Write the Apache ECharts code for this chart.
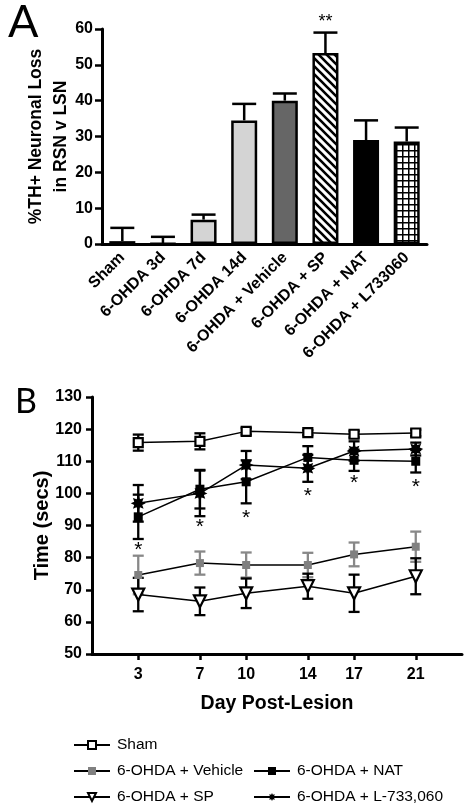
<!DOCTYPE html>
<html><head><meta charset="utf-8">
<script src="https://cdn.jsdelivr.net/npm/echarts@6/dist/echarts.min.js"></script>
<style>html,body{margin:0;padding:0;background:#fff}#c{width:469px;height:808px}</style>
</head><body><div id="c"></div>
<script>
// ---------- Panel A data ----------
const groupsA = ['Sham','6-OHDA 3d','6-OHDA 7d','6-OHDA 14d','6-OHDA + Vehicle','6-OHDA + SP','6-OHDA + NAT','6-OHDA + L733060'];
const lossA = [0.8, 0.1, 6.8, 34.5, 40.0, 53.3, 29.0, 28.6];
const semA  = [3.7, 1.9, 1.4, 4.6, 2.0, 5.7, 5.5, 3.9];
const sigA  = ['', '', '', '', '', '**', '', ''];
const yTicksA = [0, 10, 20, 30, 40, 50, 60];

// ---------- Panel B data ----------
const days = [3, 7, 10, 14, 17, 21];
const sham = [115.8, 116.2, 119.3, 118.9, 118.4, 118.8];
const shamErr = [2.5, 2.5, 1.0, 0.8, 1.0, 1.0];
const vehicle = [74.6, 78.3, 77.7, 77.7, 81.0, 83.4];
const vehicleErr = [6.0, 3.6, 3.9, 3.8, 3.7, 4.7];
const sp = [68.5, 66.4, 68.9, 71.1, 68.9, 74.2];
const spErr = [5.2, 4.3, 4.6, 3.9, 5.8, 5.6];
const nat = [92.7, 101.3, 103.6, 111.2, 110.3, 110.0];
const natErr = [6.9, 6.0, 6.7, 3.5, 3.3, 3.5];
const l733 = [96.9, 100.0, 108.8, 107.8, 113.2, 113.8];
const l733Err = [5.7, 7.1, 4.4, 4.2, 3.0, 2.0];
const sigDays = [3, 7, 10, 14, 17, 21];
const sigY = [83.4, 90.7, 93.6, 100.5, 104.4, 103.3];
const xTicksB = [3, 7, 10, 14, 17, 21];
const namesB = ['Sham', '6-OHDA + Vehicle', '6-OHDA + NAT', '6-OHDA + SP', '6-OHDA + L-733,060'];

// ---------- helpers ----------
const FONT = 'Liberation Sans, Arial, sans-serif';
function stripePattern() {
  const c = document.createElement('canvas'); c.width = 8; c.height = 8;
  const g = c.getContext('2d');
  g.fillStyle = '#fff'; g.fillRect(0, 0, 8, 8);
  g.strokeStyle = '#000'; g.lineWidth = 2.6;
  g.beginPath();
  g.moveTo(-2, -2); g.lineTo(10, 10);
  g.moveTo(-2, 6); g.lineTo(2, 10);
  g.moveTo(6, -2); g.lineTo(10, 2);
  g.stroke();
  return c;
}
function gridPattern() {
  const c = document.createElement('canvas'); c.width = 6; c.height = 6;
  const g = c.getContext('2d');
  g.fillStyle = '#fff'; g.fillRect(0, 0, 6, 6);
  g.fillStyle = '#000'; g.fillRect(0, 0, 6, 1.5); g.fillRect(0, 0, 1.5, 6);
  return c;
}
function starPath() {
  let d = '';
  for (let k = 0; k < 16; k++) {
    const a = k * Math.PI / 8 - Math.PI / 2;
    const r = k % 2 === 0 ? 10 : 5.8;
    d += (k === 0 ? 'M' : 'L') + (r * Math.cos(a)).toFixed(2) + ' ' + (r * Math.sin(a)).toFixed(2) + ' ';
  }
  return 'path://' + d + 'Z';
}
const fillsA = ['#000', '#fff', '#d4d4d4', '#d4d4d4', '#666666',
  {image: stripePattern(), repeat: 'repeat'}, '#000', {image: gridPattern(), repeat: 'repeat'}];

function errB(vals, errs, color) {
  return {
    type: 'custom', xAxisIndex: 1, yAxisIndex: 1, silent: true, z: 1,
    data: days.map((d, i) => [d, vals[i], errs[i]]),
    encode: {x: 0, y: 1},
    renderItem: function (params, api) {
      const x = api.value(0), y = api.value(1), e = api.value(2);
      const top = api.coord([x, y + e]), bot = api.coord([x, y - e]);
      const st = {stroke: color, lineWidth: 2.3};
      const h = 5.5;
      return {type: 'group', children: [
        {type: 'line', shape: {x1: top[0], y1: top[1], x2: bot[0], y2: bot[1]}, style: st},
        {type: 'line', shape: {x1: top[0] - h, y1: top[1], x2: top[0] + h, y2: top[1]}, style: st},
        {type: 'line', shape: {x1: bot[0] - h, y1: bot[1], x2: bot[0] + h, y2: bot[1]}, style: st}
      ]};
    }
  };
}
function lineB(name, vals, sym, size, fill, border, extra) {
  return Object.assign({
    type: 'line', name: name, xAxisIndex: 1, yAxisIndex: 1, z: 3,
    data: days.map((d, i) => [d, vals[i]]),
    symbol: sym, symbolSize: size, showSymbol: true,
    lineStyle: {color: '#000', width: 1.5},
    itemStyle: {color: fill, borderColor: border, borderWidth: border ? 2.2 : 0, opacity: 1},
    emphasis: {disabled: true}, animation: false
  }, extra || {});
}
function legendItem(name, left, top) {
  return {data: [name], orient: 'horizontal', left: left, top: top, padding: 0,
    itemWidth: 36, itemHeight: 10, itemGap: 0, selectedMode: false,
    textStyle: {fontSize: 15.5, fontFamily: FONT, color: '#000', padding: [0, 0, 0, 2]}};
}

const chart = echarts.init(document.getElementById('c'), null, {renderer: 'canvas'});
const option = {
  animation: false,
  backgroundColor: '#fff',
  title: [
    {text: 'A', left: 3, top: -5, textStyle: {fontFamily: 'Lato, sans-serif', fontWeight: 'normal', fontSize: 45, color: '#000'}},
    {text: 'B', left: 10, top: 380, textStyle: {fontFamily: 'Lato, sans-serif', fontWeight: 'normal', fontSize: 34, color: '#000'}}
  ],
  grid: [
    {left: 102, top: 29, width: 325, height: 215},
    {left: 92, top: 397, width: 370, height: 257}
  ],
  xAxis: [
    {type: 'category', gridIndex: 0, data: groupsA, boundaryGap: true,
     axisLine: {lineStyle: {color: '#000', width: 3}},
     axisTick: {alignWithLabel: true, length: 7, lineStyle: {width: 2.5, color: '#000'}, interval: 0},
     axisLabel: {interval: 0, rotate: 45, margin: 11, color: '#000', fontWeight: 'bold', fontSize: 16, fontFamily: FONT}},
    {type: 'value', gridIndex: 1, min: 0, max: 24,
     name: 'Day Post-Lesion', nameLocation: 'middle', nameGap: 40, nameMoveOverlap: false,
     nameTextStyle: {color: '#000', fontWeight: 'bold', fontSize: 19.5, fontFamily: FONT},
     splitLine: {show: false},
     axisLine: {lineStyle: {color: '#000', width: 3}},
     axisTick: {customValues: xTicksB, length: 6, lineStyle: {width: 2.5, color: '#000'}},
     axisLabel: {customValues: xTicksB, margin: 13, color: '#000', fontWeight: 'bold', fontSize: 16, fontFamily: FONT}}
  ],
  yAxis: [
    {type: 'value', gridIndex: 0, min: 0, max: 60, interval: 10,
     name: '%TH+ Neuronal Loss\nin RSN v LSN', nameLocation: 'middle', nameGap: 28, nameMoveOverlap: false,
     nameTextStyle: {color: '#000', fontWeight: 'bold', fontSize: 17.5, lineHeight: 25, fontFamily: FONT},
     splitLine: {show: false},
     axisLine: {show: true, lineStyle: {color: '#000', width: 3}},
     axisTick: {show: true, length: 7, lineStyle: {width: 2.5, color: '#000'}},
     axisLabel: {margin: 9, color: '#000', fontWeight: 'bold', fontSize: 16, fontFamily: FONT,
       formatter: v => yTicksA.indexOf(v) >= 0 ? String(v) : ''}},
    {type: 'value', gridIndex: 1, min: 50, max: 130, interval: 10,
     name: 'Time (secs)', nameLocation: 'middle', nameGap: 40, nameMoveOverlap: false,
     nameTextStyle: {color: '#000', fontWeight: 'bold', fontSize: 20, fontFamily: FONT},
     splitLine: {show: false},
     axisLine: {show: true, lineStyle: {color: '#000', width: 3}},
     axisTick: {show: true, length: 6, lineStyle: {width: 2.5, color: '#000'}},
     axisLabel: {margin: 10, color: '#000', fontWeight: 'bold', fontSize: 16, fontFamily: FONT}}
  ],
  legend: [
    legendItem(namesB[0], 73, 737),
    legendItem(namesB[1], 73, 763),
    legendItem(namesB[3], 73, 789),
    legendItem(namesB[2], 253, 763),
    legendItem(namesB[4], 253, 789)
  ],
  series: [
    {type: 'bar', xAxisIndex: 0, yAxisIndex: 0, barWidth: 26, z: 2,
     data: lossA.map((v, i) => ({value: v, itemStyle: {color: fillsA[i]}})),
     itemStyle: {borderColor: '#000', borderWidth: 2.5},
     emphasis: {disabled: true}},
    {type: 'custom', xAxisIndex: 0, yAxisIndex: 0, z: 1, silent: true,
     data: lossA.map((v, i) => [i, v, semA[i]]),
     encode: {x: 0, y: 1},
     renderItem: function (params, api) {
       const i = api.value(0), y = api.value(1), e = api.value(2);
       const base = api.coord([i, y]), top = api.coord([i, y + e]);
       const st = {stroke: '#000', lineWidth: 2.5};
       const h = 12;
       const ch = [
         {type: 'line', shape: {x1: base[0], y1: base[1], x2: top[0], y2: top[1]}, style: st},
         {type: 'line', shape: {x1: top[0] - h, y1: top[1], x2: top[0] + h, y2: top[1]}, style: st}
       ];
       const s = sigA[params.dataIndex];
       if (s) ch.push({type: 'text', x: top[0], y: top[1] - 2,
         style: {text: s, textAlign: 'center', textVerticalAlign: 'bottom', fill: '#000', fontSize: 18, fontFamily: FONT}});
       return {type: 'group', children: ch};
     }},
    errB(vehicle, vehicleErr, '#888888'),
    errB(sp, spErr, '#000'),
    errB(sham, shamErr, '#000'),
    errB(nat, natErr, '#000'),
    errB(l733, l733Err, '#000'),
    lineB(namesB[0], sham, 'rect', 9, '#fff', '#000'),
    lineB(namesB[1], vehicle, 'rect', 8, '#808080', null),
    lineB(namesB[2], nat, 'rect', 9, '#000', null),
    lineB(namesB[3], sp, 'triangle', 12, '#fff', '#000', {symbolRotate: 180}),
    lineB(namesB[4], l733, starPath(), 15, '#000', null),
    {type: 'custom', xAxisIndex: 1, yAxisIndex: 1, silent: true, z: 4,
     data: sigDays.map((d, i) => [d, sigY[i]]),
     encode: {x: 0, y: 1},
     renderItem: function (params, api) {
       const p = api.coord([api.value(0), api.value(1)]);
       return {type: 'text', x: p[0], y: p[1] + 4,
         style: {text: '*', textAlign: 'center', textVerticalAlign: 'middle', fill: '#000', fontSize: 21, fontFamily: FONT}};
     }}
  ]
};
chart.setOption(option);
</script>
</body></html>
